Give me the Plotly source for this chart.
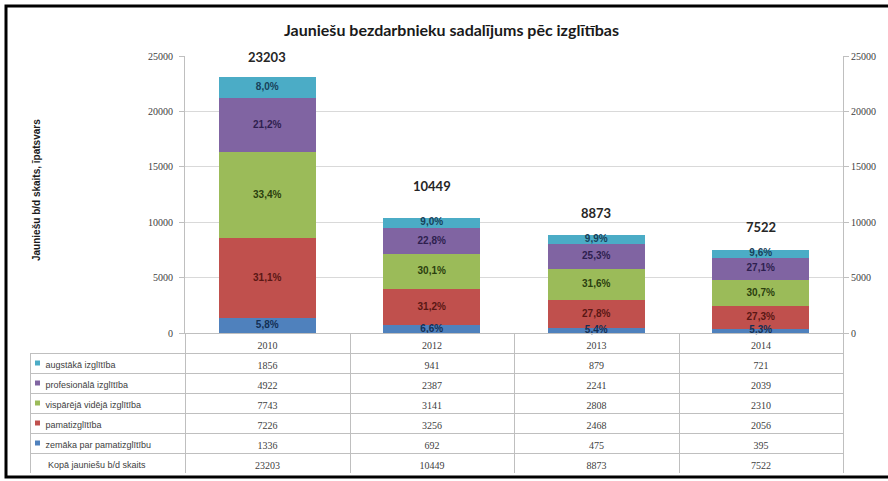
import plotly.graph_objects as go

# ---------------- data ----------------
years = ["2010", "2012", "2013", "2014"]
series_names = [
    "zemāka par pamatizglītību",
    "pamatizglītība",
    "vispārējā vidējā izglītība",
    "profesionālā izglītība",
    "augstākā izglītība",
]
zemaka = [1336, 692, 475, 395]
pamat = [7226, 3256, 2468, 2056]
vispareja = [7743, 3141, 2808, 2310]
profesionala = [4922, 2387, 2241, 2039]
augstaka = [1856, 941, 879, 721]
totals = [23203, 10449, 8873, 7522]
total_row_label = "Kopā jauniešu b/d skaits"
title_text = "Jauniešu bezdarbnieku sadalījums pēc izglītības"
ytitle_text = "Jauniešu b/d skaits, īpatsvars"
y_ticks = [0, 5000, 10000, 15000, 20000, 25000]

series_values = [zemaka, pamat, vispareja, profesionala, augstaka]

# ---------------- style ----------------
bar_colors = ["#4F81BD", "#C0504D", "#9BBB59", "#8064A2", "#4BACC6"]
label_colors = ["#132F55", "#5A1714", "#2B400E", "#2E1F4F", "#17415A"]
total_yshift = [19, 31, 22, 23]
grid_c = "#D9D9D9"
line_c = "#BFBFBF"
text_c = "#404040"
NB = "\u00a0"
CLEAR = "rgba(0,0,0,0)"

# paper spans x 30..843, y 56..473 in the 888x481 window
W, H = 888, 481
ml, mr, mt, mb = 30, 45, 56, 8
pw, ph = W - ml - mr, H - mt - mb
px_x = lambda x: (x - ml) / pw
px_y = lambda y: (H - mb - y) / ph

fig = go.Figure()

# stacked bars
for name, vals, col in zip(series_names, series_values, bar_colors):
    fig.add_trace(go.Bar(
        x=years, y=vals, name=name,
        marker=dict(color=col, line=dict(width=0)),
        hoverinfo="skip", showlegend=False,
    ))

# percentage labels at the middle of each segment
base = [0] * len(years)
for vals, lcol in zip(series_values, label_colors):
    pct = [f"{v / t * 100:.1f}".replace(".", ",") + "%" for v, t in zip(vals, totals)]
    mids = [b + v / 2 for b, v in zip(base, vals)]
    fig.add_trace(go.Scatter(
        x=years, y=mids, mode="text", text=pct, textposition="middle center",
        textfont=dict(family="Liberation Sans", size=10, color=lcol, weight="bold"),
        hoverinfo="skip", showlegend=False, cliponaxis=False,
    ))
    base = [b + v for b, v in zip(base, vals)]

# invisible trace to activate right axis
fig.add_trace(go.Scatter(x=years, y=totals, yaxis="y2", mode="markers",
                         marker=dict(opacity=0), hoverinfo="skip",
                         showlegend=False, cliponaxis=False))

# totals above bars
for i, (t, sh) in enumerate(zip(totals, total_yshift)):
    fig.add_annotation(x=i, y=t, xref="x", yref="y", text=f"<b>{t}</b>",
                       showarrow=False, yanchor="middle", yshift=sh,
                       font=dict(family="Lato", size=13, color="#262626"))

# data table
row_h = 20
table_rows = [augstaka, profesionala, vispareja, pamat, zemaka]
table_names = series_names[::-1]
table_colors = bar_colors[::-1]
first_col = [NB * 3 + n.replace(" ", NB) for n in table_names]
first_col.append(NB * 4 + total_row_label.replace(" ", NB))
cols = [first_col]
for i in range(len(years)):
    cols.append([str(r[i]) for r in table_rows] + [str(totals[i])])

n_rows = len(first_col) + 1
fig.add_trace(go.Table(
    domain=dict(x=[0, 1], y=[0, n_rows * row_h / ph]),
    columnwidth=[155, 165, 164, 165, 164],
    header=dict(
        values=[""] + years, height=row_h,
        align=["left"] + ["center"] * 4,
        fill=dict(color=CLEAR),
        line=dict(color=[CLEAR] + [line_c] * 4, width=1),
        font=dict(family="Liberation Serif", size=10, color=text_c),
    ),
    cells=dict(
        values=cols, height=row_h,
        align=["left"] + ["center"] * 4,
        fill=dict(color="white"),
        line=dict(color=line_c, width=1),
        font=dict(family=["Liberation Sans"] + ["Liberation Serif"] * 4,
                  size=[9] + [10] * 4, color=text_c),
    ),
))

# legend keys in the table's first column
for k, c in enumerate(table_colors):
    yc = 333 + row_h * (k + 1.5)
    fig.add_shape(type="rect", xref="paper", yref="paper",
                  x0=px_x(35), x1=px_x(40), y0=px_y(yc + 2.5), y1=px_y(yc - 2.5),
                  fillcolor=c, line=dict(width=0))

fig.update_layout(
    width=W, height=H,
    margin=dict(l=ml, r=mr, t=mt, b=mb, pad=0, autoexpand=False),
    paper_bgcolor="white", plot_bgcolor="white",
    barmode="stack", bargap=0.41,
    xaxis=dict(type="category", domain=[px_x(185), 1], range=[-0.5, 3.5],
               showticklabels=False, ticks="", showline=True, linecolor=line_c,
               showgrid=False, fixedrange=True, automargin=False),
    yaxis=dict(domain=[px_y(333), 1], range=[0, 25000], tickvals=y_ticks,
               tickformat="d", showgrid=True, gridcolor=grid_c, zeroline=False,
               showline=True, linecolor=line_c, ticks="outside", ticklen=5,
               tickcolor=line_c, ticklabelstandoff=4, automargin=False,
               tickfont=dict(family="Liberation Serif", size=10, color=text_c)),
    yaxis2=dict(overlaying="y", side="right", anchor="x", range=[0, 25000],
                tickvals=y_ticks, tickformat="d", showgrid=False, zeroline=False,
                showline=True, linecolor=line_c, ticks="outside", ticklen=5,
                tickcolor=line_c, automargin=False,
                tickfont=dict(family="Liberation Serif", size=10, color=text_c)),
    showlegend=False,
)

fig.add_annotation(text=f"<b>{title_text}</b>", xref="paper", yref="paper",
                   x=px_x(451), y=px_y(30), showarrow=False,
                   xanchor="center", yanchor="middle",
                   font=dict(family="Lato", size=16, color="#1a1a1a"))
fig.add_annotation(text=f"<b>{ytitle_text}</b>", xref="paper", yref="paper",
                   x=px_x(36), y=px_y(190), showarrow=False, textangle=-90,
                   xanchor="center", yanchor="middle",
                   font=dict(family="Liberation Sans", size=10, color="#1a1a1a"))

# outer frame
fig.add_shape(type="rect", xref="paper", yref="paper",
              x0=px_x(6), x1=px_x(893), y0=px_y(477), y1=px_y(6),
              line=dict(color="black", width=3), fillcolor=CLEAR)

fig.write_html("out.html", config={"displayModeBar": False},
               post_script="document.body.style.margin='0';document.body.style.overflow='hidden';")
